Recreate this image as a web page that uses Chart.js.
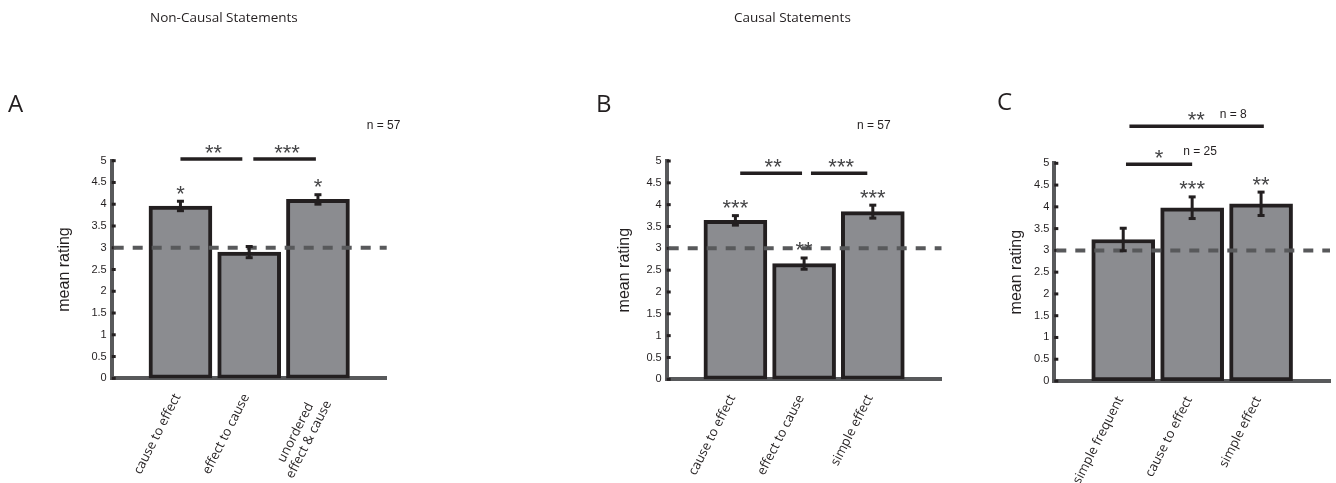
<!DOCTYPE html>
<html><head><meta charset="utf-8">
<script src="https://cdn.jsdelivr.net/npm/chart.js@4.4.1/dist/chart.umd.min.js"></script>
<style>
html,body{margin:0;padding:0;background:#fff;}
#wrap{position:relative;width:1336px;height:483px;overflow:hidden;background:#fff;}
canvas{position:absolute;left:0;top:0;}
.t{position:absolute;white-space:nowrap;color:#231f20;font-family:'Open Sans',sans-serif;}
</style></head><body>
<div id="wrap">
<canvas id="cA" width="1336" height="483"></canvas>
<canvas id="cB" width="1336" height="483"></canvas>
<canvas id="cC" width="1336" height="483"></canvas>
<div class="t" style="left:150px;top:11px;font-size:13.5px;line-height:13.5px">Non-Causal Statements</div>
<div class="t" style="left:734px;top:11px;font-size:13.5px;line-height:13.5px">Causal Statements</div>
<div class="t" style="left:8px;top:91px;font-size:24px;line-height:24px">A</div>
<div class="t" style="left:596px;top:91px;font-size:24px;line-height:24px">B</div>
<div class="t" style="left:997px;top:89px;font-size:24px;line-height:24px">C</div>
</div>
<script>
// ---------- data ----------
const categoriesA = ['cause to effect', 'effect to cause', ['unordered   ', 'effect & cause']];
const meansA = [3.96, 2.90, 4.11];
const errorsA = [0.12, 0.14, 0.12];
const starsA = ['*', '', '*'];

const categoriesB = ['cause to effect', 'effect to cause', 'simple effect'];
const meansB = [3.64, 2.65, 3.84];
const errorsB = [0.12, 0.14, 0.16];
const starsB = ['***', '**', '***'];

const categoriesC = ['simple frequent', 'cause to effect', 'simple effect'];
const meansC = [3.25, 3.98, 4.07];
const errorsC = [0.27, 0.26, 0.28];
const starsC = ['', '***', '**'];

const yMin = 0, yMax = 5, yStep = 0.5;
const chanceLevel = 3;

// significance brackets: [fromX, toX, level, label, labelX] (x in category units, level in rating units)
const bracketsA = [[1.0, 1.9, 5.04, '**', 1.48], [2.06, 2.97, 5.04, '***', 2.55]];
const bracketsB = [[1.07, 1.97, 4.72, '**', 1.55], [2.10, 2.92, 4.72, '***', 2.54]];
const bracketsC = [[1.04, 2.0, 4.98, '*', 1.52], [1.09, 3.04, 5.85, '**', 2.06]];

// sample-size notes: [text, x, y]
const notesA = [['n = 57', 3.71, 5.81]];
const notesB = [['n = 57', 2.77, 5.80]];
const notesC = [['n = 25', 1.87, 5.27], ['n = 8', 2.40, 6.11]];

// ---------- drawing ----------
const INK = '#231f20';
const STAR = '#454547';
const annot = {
  id: 'annot',
  afterDatasetsDraw(chart, args, o) {
    const {ctx, chartArea: ca, scales: {x, y}} = chart;
    ctx.save();
    ctx.fillStyle = INK;
    y.ticks.forEach(t => { const py = y.getPixelForValue(t.value); ctx.fillRect(ca.left, py - 1.5, 4, 3); });
    ctx.strokeStyle = '#58595b'; ctx.lineWidth = 4; ctx.setLineDash([10, 9]);
    const pc = y.getPixelForValue(o.chance);
    ctx.beginPath(); ctx.moveTo(ca.left + 2, pc); ctx.lineTo(ca.right, pc); ctx.stroke();
    ctx.setLineDash([]);
    o.means.forEach((m, i) => {
      const px = x.getPixelForValue(i + 1);
      const top = y.getPixelForValue(m + o.errs[i]);
      const bot = y.getPixelForValue(m - o.errs[i]);
      ctx.strokeStyle = INK; ctx.lineWidth = 3;
      ctx.beginPath(); ctx.moveTo(px, top); ctx.lineTo(px, bot); ctx.stroke();
      ctx.fillStyle = INK;
      ctx.fillRect(px - 3.5, top - 1, 7, 3);
      ctx.fillRect(px - 3.5, bot - 2, 7, 3);
      if (o.stars[i]) {
        ctx.fillStyle = STAR;
        ctx.font = '22px "Liberation Sans", Arial, sans-serif';
        ctx.textAlign = 'center'; ctx.textBaseline = 'alphabetic';
        ctx.fillText(o.stars[i], px, top);
      }
    });
    o.brackets.forEach(b => {
      const x1 = x.getPixelForValue(b[0]), x2 = x.getPixelForValue(b[1]);
      const py = y.getPixelForValue(b[2]);
      ctx.strokeStyle = INK; ctx.lineWidth = 3.5;
      ctx.beginPath(); ctx.moveTo(x1, py); ctx.lineTo(x2, py); ctx.stroke();
      ctx.fillStyle = STAR;
      ctx.font = '22px "Liberation Sans", Arial, sans-serif';
      ctx.textAlign = 'center'; ctx.textBaseline = 'alphabetic';
      ctx.fillText(b[3], x.getPixelForValue(b[4]), py + 1);
    });
    ctx.fillStyle = INK;
    ctx.font = '12px "Liberation Sans", Arial, sans-serif';
    ctx.textAlign = 'left'; ctx.textBaseline = 'middle';
    o.notes.forEach(n => ctx.fillText(n[0], x.getPixelForValue(n[1]), y.getPixelForValue(n[2])));
    ctx.restore();
  }
};

function makeChart(id, cats, means, errs, stars, brackets, notes, geo) {
  const labels = [''].concat(cats, ['']);
  const data = [null].concat(means, [null]);
  return new Chart(document.getElementById(id), {
    type: 'bar',
    data: { labels, datasets: [{ data, backgroundColor: '#8b8c90', borderColor: INK, borderWidth: 4, borderSkipped: false, barThickness: 63 }] },
    options: {
      responsive: false, animation: false, devicePixelRatio: 1,
      layout: { padding: { left: 0, right: 1336 - geo.right, top: geo.top, bottom: 0 } },
      plugins: {
        legend: { display: false }, tooltip: { enabled: false },
        annot: { means, errs, stars, brackets, notes, chance: chanceLevel }
      },
      scales: {
        x: {
          type: 'category', offset: false, z: 1,
          grid: { display: false, drawTicks: false },
          border: { display: true, color: '#58595b', width: 4 },
          ticks: { autoSkip: false, maxRotation: 63, minRotation: 63, padding: 13, labelOffset: -3, color: INK,
                   font: { family: 'Open Sans', size: 13, lineHeight: 1.15 } },
          afterFit: s => { s.height = 483 - geo.bottom; s.paddingLeft = 0; s.paddingRight = 0; }
        },
        y: {
          min: yMin, max: yMax,
          grid: { display: false, drawTicks: false },
          border: { display: true, color: '#58595b', width: 4 },
          ticks: { stepSize: yStep, padding: 5, color: INK, font: { family: 'Liberation Sans', size: 11 },
                   callback: v => String(Math.round(v * 10) / 10) },
          title: { display: true, text: 'mean rating', color: INK, font: { family: 'Liberation Sans', size: 16 },
                   padding: { top: geo.titleX - 9.6, bottom: 0 } },
          afterFit: s => { s.width = geo.left; s.paddingTop = 0; s.paddingBottom = 0; }
        }
      }
    },
    plugins: [annot]
  });
}

makeChart('cA', categoriesA, meansA, errorsA, starsA, bracketsA, notesA, { left: 111.7, right: 386.7, top: 160.7, bottom: 378.3, titleX: 65 });
makeChart('cB', categoriesB, meansB, errorsB, starsB, bracketsB, notesB, { left: 666.7, right: 941.5, top: 161, bottom: 379.3, titleX: 625 });
makeChart('cC', categoriesC, meansC, errorsC, starsC, bracketsC, notesC, { left: 1054.3, right: 1330, top: 163.3, bottom: 381, titleX: 1016.7 });
</script>
</body></html>
